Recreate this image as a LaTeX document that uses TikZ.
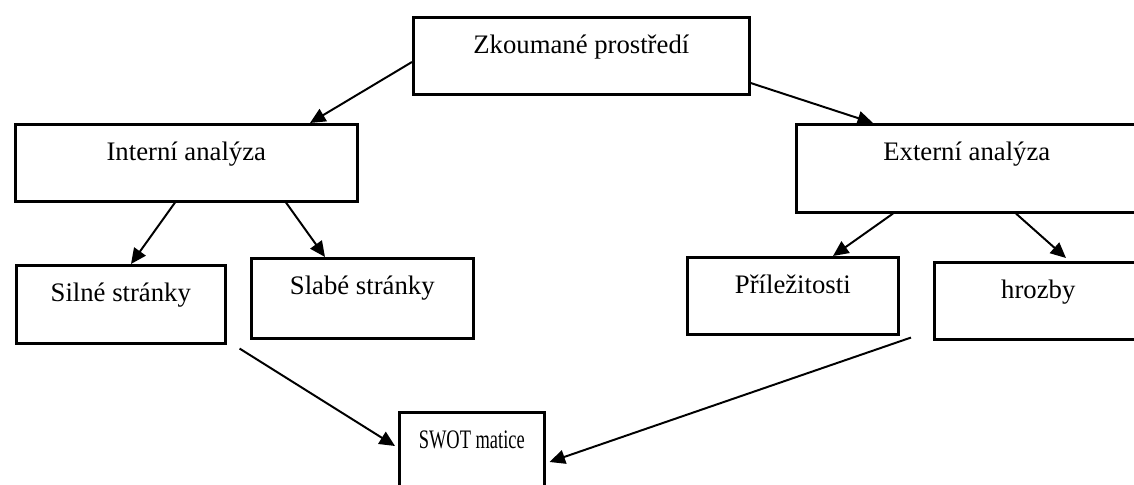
\documentclass[tikz,border=0pt]{standalone}
\usepackage{fontspec}
\usepackage{graphicx}
\setmainfont{Liberation Serif}
\usetikzlibrary{arrows.meta,positioning,calc}

\begin{document}
\begin{tikzpicture}[x=0.025cm, y=-0.025cm,
  tbox/.style={rectangle, draw, line width=1.8pt, inner sep=0pt, anchor=north west, text height=0.9cm, text depth=#1, font=\fontsize{19}{23}\selectfont},
  arr/.style={-{Triangle[length=11pt, width=10pt]}, line width=1.4pt}
]
  \clip (0,0) rectangle (1134,485);
  % boxes
  \node[tbox=1.025cm, minimum width=8.4cm] (zk) at (412,16) {Zkoumané prostředí};
  \node[tbox=1.025cm, minimum width=8.55cm] (int) at (14,123) {Interní analýza};
  \node[tbox=1.3cm, minimum width=8.525cm] (ext) at (795,123) {Externí analýza};
  \node[tbox=1.05cm, minimum width=5.225cm] (sil) at (15,264) {Silné stránky};
  \node[tbox=1.1cm, minimum width=5.55cm] (sla) at (250,257) {Slabé stránky};
  \node[tbox=1.025cm, minimum width=5.275cm] (pri) at (686,256) {Příležitosti};
  \node[tbox=1.025cm, minimum width=5.2cm] (hro) at (933,261) {hrozby};
  \node[tbox=1.1cm, minimum width=3.625cm] (swot) at (398,411) {\scalebox{0.69}[1]{SWOT matice}};

  \coordinate (silout) at ($(sil.south east)+(13,4)$);
  \coordinate (hroout) at ($(hro.south west)+(-22,-3)$);

  % arrows
  \draw[arr] ($(zk.north west)+(0,46)$) -- ($(int.north west)+(296,0)$);
  \draw[arr] ($(zk.north east)+(0,67)$) -- ($(ext.north west)+(78,0)$);
  \draw[arr] ($(int.south west)+(161,0)$) -- ($(sil.north west)+(116,0)$);
  \draw[arr] ($(int.south west)+(272,0)$) -- ($(sla.north west)+(75,0)$);
  \draw[arr] ($(ext.south west)+(98,0)$) -- ($(pri.north west)+(147,0)$);
  \draw[arr] ($(ext.south west)+(221,0)$) -- ($(hro.north west)+(133,-3)$);
  \draw[arr] (silout) -- ($(swot.north west)+(-3,35)$);
  \draw[arr] (hroout) -- ($(swot.north east)+(4,51)$);
\end{tikzpicture}
\end{document}
